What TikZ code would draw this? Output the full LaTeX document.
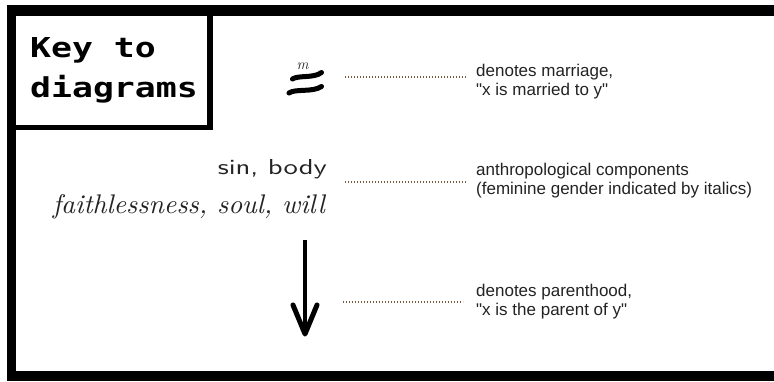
\documentclass[tikz,border=0pt]{standalone}
\usepackage{fontspec}
\usepackage{graphicx}
\newfontfamily\descfont{Liberation Sans}
\newfontfamily\keyfont{DejaVu Sans Mono}
\definecolor{txt}{RGB}{35,35,35}
\definecolor{dots}{RGB}{120,90,60}
\tikzset{
  desc/.style={anchor=base west, inner sep=0pt, text=txt, font=\descfont\fontsize{17}{19}\selectfont},
  keytxt/.style={anchor=base west, inner sep=0pt, font=\keyfont\bfseries\fontsize{27.4}{30}\selectfont},
  dotline/.style={draw=dots, line width=1.2pt, dash pattern=on 1.2pt off 1.8pt},
  comp/.style={anchor=base east, inner sep=0pt, text=txt},
  bar/.style={line width=5pt, line cap=round},
}
\begin{document}
\begin{tikzpicture}[x=1pt, y=-1pt]
\useasboundingbox (0,0) rectangle (774,381);
% outer frame
\fill[black] (7,5) rectangle (774,381);
\fill[white] (16,16) rectangle (774,371);
% key box
\fill[black] (16,16) rectangle (213,130);
\fill[white] (16,16) rectangle (207,125);
\node[keytxt] (key1) at (30,57) {\scalebox{1.27}[1]{Key to}};
\node[keytxt] (key2) at (30,97) {\scalebox{1.27}[1]{diagrams}};
% marriage symbol
\draw[bar] (292.5,79) .. controls (298,75) and (314,78.5) .. (321.5,72.5);
\draw[bar] (289,93) .. controls (295,88.5) and (313,92.5) .. (321.5,86.5);
\node[inner sep=0pt, text=txt, font=\fontsize{15}{16}\selectfont\itshape] (msup) at (302.5,66) {m};
% dotted connectors
\coordinate (d1a) at (345,77); \coordinate (d1b) at (467,77);
\coordinate (d2a) at (345,182); \coordinate (d2b) at (467,182);
\coordinate (d3a) at (343,302); \coordinate (d3b) at (463,302);
\draw[dotline] (d1a) -- (d1b);
\draw[dotline] (d2a) -- (d2b);
\draw[dotline] (d3a) -- (d3b);
% descriptions
\node[desc] (t1a) at (476,76) {denotes marriage,};
\node[desc] (t1b) at (476,95.5) {"x is married to y"};
\node[desc] (t2a) at (476,175) {anthropological components};
\node[desc] (t2b) at (476,194.5) {(feminine gender indicated by italics)};
\node[desc] (t3a) at (476,296) {denotes parenthood,};
\node[desc] (t3b) at (476,315.5) {"x is the parent of y"};
% components
\node[comp] (c1) at (327,174) {\resizebox{109pt}{15pt}{\sffamily sin, body}};
\node[comp] (c2) at (325,213) {\resizebox{272pt}{19pt}{\itshape faithlessness, soul, will}};
% parenthood arrow
\coordinate (atop) at (305,240);
\coordinate (atip) at (305,334);
\coordinate (al) at (293,305);
\coordinate (ar) at (317,305);
\draw[line width=4.5pt] (atop) -- (atip);
\draw[line width=5pt, line cap=round, line join=round] (al) -- (atip) -- (ar);
\end{tikzpicture}
\end{document}
